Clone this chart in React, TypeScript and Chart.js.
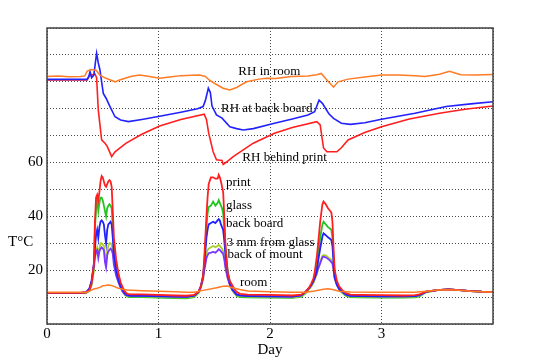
import React, { useEffect, useRef } from 'react';
import { Chart, registerables } from 'chart.js';

Chart.register(...registerables);

const FONT = "'Liberation Serif', 'Times New Roman', serif";

// ---- Tick labels ----
const X_TICK_LABELS = [0, 1, 2, 3];
const Y_TICK_LABELS = [20, 40, 60];

// ---- Relative humidity series ----
const RH_ROOM_DAYS = [0, 0.10, 0.20, 0.30, 0.34, 0.36, 0.40, 0.44, 0.475, 0.53, 0.58, 0.61, 0.65, 0.75, 0.83, 0.92, 1.01, 1.10, 1.20, 1.30, 1.37, 1.42, 1.46, 1.52, 1.58, 1.64, 1.70, 1.79, 1.90, 1.97, 2.05, 2.19, 2.34, 2.42, 2.46, 2.51, 2.57, 2.61, 2.70, 2.85, 3.00, 3.15, 3.30, 3.39, 3.52, 3.61, 3.71, 3.84, 4.00];
const RH_ROOM = [92.0, 92.2, 91.9, 92.0, 92.2, 94.0, 94.6, 94.3, 92.5, 91.3, 90.5, 90.0, 90.7, 92.0, 92.5, 92.0, 91.3, 91.8, 92.3, 92.4, 92.5, 92.0, 90.5, 89.0, 87.6, 87.0, 87.9, 90.0, 91.0, 91.3, 91.2, 92.0, 92.2, 92.6, 93.1, 90.7, 88.0, 90.0, 91.0, 91.8, 92.5, 92.5, 92.3, 92.0, 92.8, 93.9, 92.6, 92.5, 92.7];

const RH_BACK_DAYS = [0, 0.36, 0.375, 0.386, 0.40, 0.42, 0.435, 0.445, 0.46, 0.475, 0.49, 0.505, 0.53, 0.565, 0.61, 0.66, 0.73, 0.85, 1.01, 1.20, 1.35, 1.40, 1.42, 1.447, 1.465, 1.48, 1.52, 1.57, 1.64, 1.70, 1.76, 1.85, 2.04, 2.20, 2.34, 2.40, 2.42, 2.44, 2.47, 2.50, 2.53, 2.57, 2.64, 2.72, 2.85, 3.00, 3.30, 3.58, 3.80, 4.00];
const RH_BACK = [90.9, 90.9, 92.0, 93.8, 91.5, 92.5, 97.5, 100.6, 97.0, 94.4, 90.0, 85.7, 83.9, 80.8, 77.0, 75.8, 75.2, 76.0, 77.2, 78.7, 80.0, 80.8, 83.0, 87.6, 86.0, 81.0, 77.7, 76.5, 73.3, 72.6, 72.1, 72.6, 74.6, 76.2, 77.7, 78.9, 81.0, 83.2, 82.0, 80.0, 78.0, 76.4, 74.6, 74.2, 74.8, 76.1, 78.3, 80.8, 81.8, 82.6];

const RH_PRINT_DAYS = [0, 0.36, 0.38, 0.40, 0.43, 0.445, 0.46, 0.49, 0.52, 0.54, 0.58, 0.61, 0.71, 0.85, 1.01, 1.20, 1.41, 1.43, 1.45, 1.49, 1.52, 1.57, 1.58, 1.61, 1.67, 1.85, 2.04, 2.20, 2.42, 2.45, 2.48, 2.51, 2.60, 2.64, 2.70, 2.85, 3.00, 3.25, 3.52, 3.75, 4.00];
const RH_PRINT = [90.7, 90.7, 92.3, 92.5, 92.9, 91.5, 79.5, 68.4, 67.2, 66.0, 62.2, 64.0, 67.2, 70.5, 73.6, 76.0, 78.0, 76.0, 70.9, 64.0, 61.0, 60.8, 59.3, 60.2, 62.2, 67.2, 70.9, 73.0, 75.2, 74.0, 65.4, 64.0, 64.0, 65.5, 68.4, 71.2, 73.3, 76.2, 78.3, 79.8, 81.0];

// ---- Temperature series (shared day grid) ----
const T_DAYS = [
  0, 0.30, 0.35, 0.38,
  0.40, 0.42, 0.43, 0.44, 0.45, 0.46, 0.47, 0.48, 0.49, 0.50, 0.51, 0.52, 0.53, 0.54, 0.55, 0.56, 0.57, 0.58, 0.59, 0.60,
  0.62, 0.64, 0.66, 0.68, 0.70, 0.72, 0.75,
  0.85, 1.00, 1.15, 1.25, 1.32, 1.36, 1.38,
  1.40, 1.41, 1.42, 1.43, 1.44, 1.45, 1.47, 1.49, 1.51, 1.53, 1.54, 1.55, 1.56, 1.57, 1.58, 1.59, 1.60,
  1.62, 1.64, 1.66, 1.68, 1.70, 1.73, 1.80,
  2.00, 2.20, 2.28, 2.32, 2.35, 2.37, 2.39,
  2.40, 2.41, 2.42, 2.43, 2.45, 2.47, 2.48, 2.50, 2.52, 2.54, 2.55, 2.56, 2.57, 2.58, 2.60,
  2.62, 2.65, 2.68, 2.72, 2.80,
  3.00, 3.20, 3.30, 3.34, 3.40, 3.50, 3.60, 3.70, 3.80, 3.90, 4.00,
];
const T_PRINT = [
  11.6, 11.6, 11.7, 12.5,
  15, 22, 38, 47, 48, 46, 49, 53, 55, 54.5, 53, 51.5, 51, 52, 53, 53.5, 53, 51, 42, 32,
  24, 19, 15.5, 13.5, 12, 11.2, 11,
  11, 10.8, 10.6, 10.5, 10.8, 12, 14,
  18, 24, 32, 40, 47, 52, 54.5, 54.5, 54, 54, 55.4, 54.5, 53, 51, 49, 40, 30,
  19, 16, 14.5, 13, 12, 11.2, 10.9,
  10.8, 10.6, 10.9, 12, 13.5, 15, 17,
  19, 22, 25, 29, 38, 44.5, 45.5, 44.5, 43, 42, 41.5, 38, 28, 20, 16,
  14, 12.5, 11.5, 10.9, 10.8,
  10.7, 10.6, 10.7, 11, 12, 12.6, 12.9, 12.6, 12.2, 12, 11.9,
];
const T_GLASS = [
  11.6, 11.6, 11.6, 12.3,
  14.5, 20, 35, 43, 46, 42, 45, 47, 47, 46, 44, 42, 40, 43, 44, 44.5, 44, 43, 36, 28,
  21, 17, 14, 12, 10.8, 10.2, 10,
  10, 9.8, 9.6, 9.5, 10, 11.5, 13.5,
  17, 22, 29, 36, 41, 43.5, 44, 45.5, 44, 45, 46, 45, 44, 43, 41, 35, 28,
  20, 15.5, 13, 11.5, 10.5, 10, 9.9,
  9.8, 9.7, 10.1, 11.5, 13, 14, 15.5,
  17, 19, 21, 25, 32, 37, 38, 37, 36, 35.4, 35, 32, 25, 18.5, 15,
  13, 11.5, 10.5, 10, 9.9,
  9.8, 9.8, 9.9, 10.3, 11.8, 12.6, 12.9, 12.6, 12.2, 12, 11.9,
];
const T_BACKBOARD = [
  11.6, 11.6, 11.8, 13,
  16, 22, 28, 33, 35, 32, 36, 38, 38.5, 38, 37, 33, 30, 35, 37, 37.5, 38, 37, 32, 26,
  20, 16.5, 14, 12.5, 11.3, 10.7, 10.5,
  10.5, 10.3, 10.2, 10.1, 10.5, 12, 14,
  18, 22, 27, 32, 35, 37, 37.5, 38, 37.5, 38.5, 39, 38.5, 37, 36, 35, 31, 26,
  19, 15, 13, 12, 11, 10.6, 10.4,
  10.3, 10.2, 10.6, 12, 13.3, 14.5, 16,
  17, 18.5, 20, 23, 28, 32.5, 33.7, 33, 32.2, 31.6, 31.2, 29, 23, 17.5, 14.5,
  13, 12, 11, 10.5, 10.4,
  10.3, 10.3, 10.4, 10.7, 12, 12.6, 12.9, 12.6, 12.2, 12, 11.9,
];
const T_3MM = [
  11.6, 11.6, 11.7, 12.8,
  15, 20, 24, 27, 28.5, 26, 28, 30, 30, 29.5, 29, 26, 23.5, 27, 29, 30, 30, 29.5, 27, 24,
  19, 16, 13.5, 12, 11, 10.4, 10.3,
  10.3, 10.1, 9.9, 9.8, 10.3, 11.8, 13.5,
  17, 20, 23, 26, 27.5, 28, 28.5, 29, 28.5, 29, 29.4, 29, 28.5, 28, 27, 25, 22,
  17.5, 14.5, 12.5, 11.5, 10.8, 10.4, 10.2,
  10.1, 9.9, 10.3, 11.8, 13, 14, 15.5,
  16.5, 17.5, 18.5, 20, 23, 25.3, 25.6, 25.5, 24.8, 24.2, 23.8, 23, 20, 17, 14.5,
  12.8, 11.7, 10.8, 10.3, 10.2,
  10.1, 10.1, 10.2, 10.5, 11.9, 12.6, 12.9, 12.6, 12.2, 12, 11.9,
];
const T_MOUNT = [
  11.6, 11.6, 11.8, 13.2,
  16, 22, 25, 27, 27.5, 24.5, 27, 28, 28.5, 28, 27.5, 23, 21, 25.5, 27, 27.5, 28, 27.5, 26, 22,
  18, 15.5, 13.5, 12, 11, 10.6, 10.5,
  10.6, 10.4, 10.2, 10.1, 10.6, 12, 14,
  17, 20, 22, 24.5, 25.5, 26.3, 26.5, 26.8, 26.5, 27.3, 27.8, 27.5, 27, 26.5, 26, 24, 21,
  17, 14.5, 12.8, 11.8, 11, 10.6, 10.4,
  10.3, 10.2, 10.6, 12, 13.3, 14.5, 16,
  17, 18, 19, 20.5, 22.5, 24.8, 25, 24.8, 24.2, 23.5, 23, 22.5, 20, 17, 14.5,
  13, 12, 11, 10.5, 10.4,
  10.3, 10.3, 10.4, 10.7, 12, 12.6, 12.9, 12.6, 12.2, 12, 11.9,
];

const ROOM_T_DAYS = [0, 0.30, 0.35, 0.38, 0.40, 0.42, 0.45, 0.48, 0.50, 0.52, 0.55, 0.58, 0.60, 0.64, 0.68, 0.72, 0.85, 1.00, 1.15, 1.25, 1.32, 1.40, 1.50, 1.58, 1.62, 1.66, 1.73, 1.80, 2.00, 2.20, 2.32, 2.40, 2.48, 2.52, 2.56, 2.62, 2.72, 3.00, 3.30, 3.40, 3.50, 3.60, 3.70, 3.80, 3.90, 4.00];
const ROOM_T = [11.8, 11.8, 11.8, 12.2, 12.6, 13.0, 13.3, 13.7, 14.2, 14.3, 14.5, 14.3, 14.0, 13.3, 12.9, 12.6, 12.4, 12.2, 12.0, 11.8, 11.8, 12.5, 13.3, 14.0, 14.1, 13.5, 12.8, 12.3, 12.0, 11.8, 11.8, 12.3, 12.9, 13.1, 12.8, 12.2, 11.9, 11.8, 11.8, 12.2, 12.6, 12.7, 12.5, 12.2, 12.0, 11.8];

// ---- Curve annotations ----
const LABEL_TEXT = ['RH in room', 'RH at back board', 'RH behind print', 'print', 'glass', 'back board', '3 mm from glass', 'back of mount', 'room'];
const LABEL_DAY = [1.716, 1.561, 1.752, 1.605, 1.605, 1.605, 1.612, 1.618, 1.731];
const LABEL_VAL = [93.9, 80.2, 62.0, 52.4, 43.9, 37.3, 30.3, 25.8, 15.3];

const C_ORANGE = '#ff7b24';
const C_RED = '#ff1f1f';
const C_BLUE = '#2222ff';
const C_GREEN = '#22c522';
const C_YG = '#a8cf2c';
const C_PURPLE = '#7a35ff';

const pts = (xs: number[], ys: number[]) => xs.map((x, i) => ({ x, y: ys[i] }));

const overlayPlugin = {
  id: 'overlay',
  afterDatasetsDraw(chart: any) {
    const { ctx, chartArea: a, scales } = chart;
    ctx.save();
    ctx.strokeStyle = '#404040';
    ctx.lineWidth = 1.5;
    ctx.setLineDash([]);
    ctx.strokeRect(a.left, a.top, a.right - a.left, a.bottom - a.top);
    ctx.fillStyle = '#000';
    ctx.textAlign = 'left';
    ctx.textBaseline = 'middle';
    ctx.font = `13px ${FONT}`;
    LABEL_TEXT.forEach((t, i) => {
      ctx.fillText(t, scales.x.getPixelForValue(LABEL_DAY[i]), scales.y.getPixelForValue(LABEL_VAL[i]));
    });
    ctx.font = `15px ${FONT}`;
    ctx.fillText('T°C', 8, scales.y.getPixelForValue(30.3));
    ctx.restore();
  },
};

export default function App() {
  const ref = useRef<HTMLCanvasElement>(null);
  useEffect(() => {
    const line = (label: string, data: any[], color: string, width: number) => ({
      label,
      data,
      borderColor: color,
      backgroundColor: color,
      borderWidth: width,
      pointRadius: 0,
      tension: 0,
      fill: false,
    });
    const chart = new Chart(ref.current!, {
      type: 'line',
      data: {
        datasets: [
          line('RH in room', pts(RH_ROOM_DAYS, RH_ROOM), C_ORANGE, 1.5),
          line('RH at back board', pts(RH_BACK_DAYS, RH_BACK), C_BLUE, 1.6),
          line('RH behind print', pts(RH_PRINT_DAYS, RH_PRINT), C_RED, 1.6),
          line('room', pts(ROOM_T_DAYS, ROOM_T), C_ORANGE, 1.5),
          line('print', pts(T_DAYS, T_PRINT), C_RED, 1.8),
          line('back board', pts(T_DAYS, T_BACKBOARD), C_BLUE, 1.8),
          line('back of mount', pts(T_DAYS, T_MOUNT), C_PURPLE, 1.8),
          line('3 mm from glass', pts(T_DAYS, T_3MM), C_YG, 1.8),
          line('glass', pts(T_DAYS, T_GLASS), C_GREEN, 1.8),
        ] as any,
      },
      options: {
        responsive: false,
        animation: false,
        devicePixelRatio: 1,
        layout: { padding: { left: 0, top: 28, right: 57, bottom: 0 } },
        plugins: { legend: { display: false }, tooltip: { enabled: false } },
        scales: {
          x: {
            type: 'linear',
            min: 0,
            max: 4,
            afterFit: (s: any) => { s.height = 38; },
            ticks: {
              stepSize: 1,
              padding: 1,
              color: '#000',
              font: { family: FONT, size: 15 },
              callback: (v: any) => (X_TICK_LABELS.includes(Number(v)) ? String(v) : ''),
            },
            grid: { color: '#4a4a4a', lineWidth: 1, drawTicks: false },
            border: { display: false, dash: [1, 2] },
            title: { display: true, text: 'Day', color: '#000', font: { family: FONT, size: 15 }, padding: { top: 0, bottom: 3 } },
          },
          y: {
            type: 'linear',
            min: 0,
            max: 110,
            afterFit: (s: any) => { s.width = 47; },
            ticks: {
              stepSize: 10,
              padding: 4,
              color: '#000',
              font: { family: FONT, size: 15 },
              callback: (v: any) => (Y_TICK_LABELS.includes(Number(v)) ? String(v) : ''),
            },
            grid: { color: '#4a4a4a', lineWidth: 1, drawTicks: false },
            border: { display: false, dash: [1, 2] },
          },
        },
      },
      plugins: [overlayPlugin],
    });
    return () => chart.destroy();
  }, []);
  return (
    <div style={{ position: 'fixed', left: 0, top: 0, width: 550, height: 362, background: '#fff' }}>
      <canvas ref={ref} width={550} height={362} style={{ display: 'block', width: 550, height: 362 }} />
    </div>
  );
}
